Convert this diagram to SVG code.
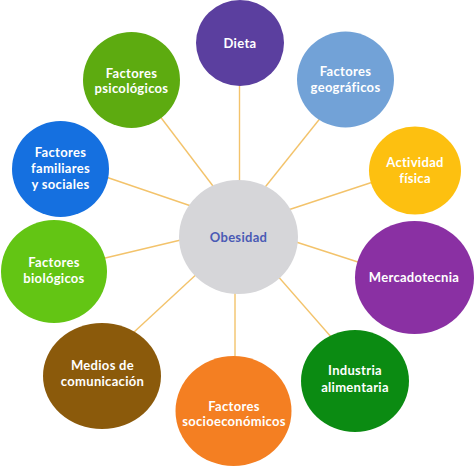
<svg xmlns="http://www.w3.org/2000/svg" width="474" height="468" viewBox="0 0 474 468">
<style>
.lbl{font-family:Lato,"Open Sans","Liberation Sans",sans-serif;font-weight:bold;font-size:13px;letter-spacing:0.3px;fill:#ffffff;text-anchor:middle}
.ctr{fill:#4a5ab5}
.con line{stroke:#f3c36b;stroke-width:1.4}
</style>
<rect width="474" height="468" fill="#ffffff"/>
<g id="connectors" class="con">
<line x1="239.5" y1="80" x2="239.5" y2="186"/>
<line x1="322" y1="116" x2="262" y2="191"/>
<line x1="376" y1="181" x2="285" y2="211"/>
<line x1="293" y1="241" x2="361" y2="263"/>
<line x1="276" y1="274" x2="332" y2="338"/>
<line x1="235" y1="288" x2="235" y2="362"/>
<line x1="133" y1="333" x2="200" y2="271"/>
<line x1="101" y1="259" x2="185" y2="239"/>
<line x1="103" y1="176" x2="194" y2="207"/>
<line x1="159" y1="115" x2="216" y2="190"/>
</g>
<g id="obesidad"><ellipse cx="238.5" cy="237" rx="59.5" ry="57" fill="#d6d6d9"/><text class="lbl ctr" x="238.5" y="242">Obesidad</text></g>
<g id="dieta"><ellipse cx="240" cy="43" rx="44" ry="43" fill="#5b3f9f"/><text class="lbl" x="240" y="47.5">Dieta</text></g>
<g id="geograficos"><ellipse cx="345.5" cy="79.5" rx="48.5" ry="48" fill="#72a2d7"/><text class="lbl" x="345.5" y="76">Factores</text><text class="lbl" x="345.5" y="91.5">geográficos</text></g>
<g id="actividad"><ellipse cx="415" cy="170.5" rx="46" ry="44" fill="#fdc010"/><text class="lbl" x="415" y="167">Actividad</text><text class="lbl" x="415" y="182.5">física</text></g>
<g id="mercadotecnia"><ellipse cx="414.5" cy="277.5" rx="59.5" ry="56.5" fill="#8a30a3"/><text class="lbl" x="414" y="282">Mercadotecnia</text></g>
<g id="industria"><ellipse cx="355" cy="381" rx="54" ry="51" fill="#0b8b12"/><text class="lbl" x="355" y="375">Industria</text><text class="lbl" x="355" y="391.5">alimentaria</text></g>
<g id="socioeconomicos"><ellipse cx="233.5" cy="411" rx="58" ry="55" fill="#f47f22"/><text class="lbl" x="234" y="411">Factores</text><text class="lbl" x="234" y="426">socioeconómicos</text></g>
<g id="medios"><ellipse cx="102" cy="376" rx="59" ry="53" fill="#8b5a0b"/><text class="lbl" x="102.5" y="370">Medios de</text><text class="lbl" x="102.5" y="386">comunicación</text></g>
<g id="biologicos"><ellipse cx="54" cy="271.5" rx="53" ry="51.5" fill="#63c514"/><text class="lbl" x="54" y="267">Factores</text><text class="lbl" x="54" y="283">biológicos</text></g>
<g id="familiares"><ellipse cx="60.5" cy="169" rx="48.5" ry="48" fill="#1570e0"/><text class="lbl" x="60.5" y="157">Factores</text><text class="lbl" x="60.5" y="173">familiares</text><text class="lbl" x="60.5" y="189">y sociales</text></g>
<g id="psicologicos"><ellipse cx="131.5" cy="80" rx="48.5" ry="48" fill="#5dab10"/><text class="lbl" x="131.5" y="78">Factores</text><text class="lbl" x="131.5" y="93">psicológicos</text></g>
</svg>
